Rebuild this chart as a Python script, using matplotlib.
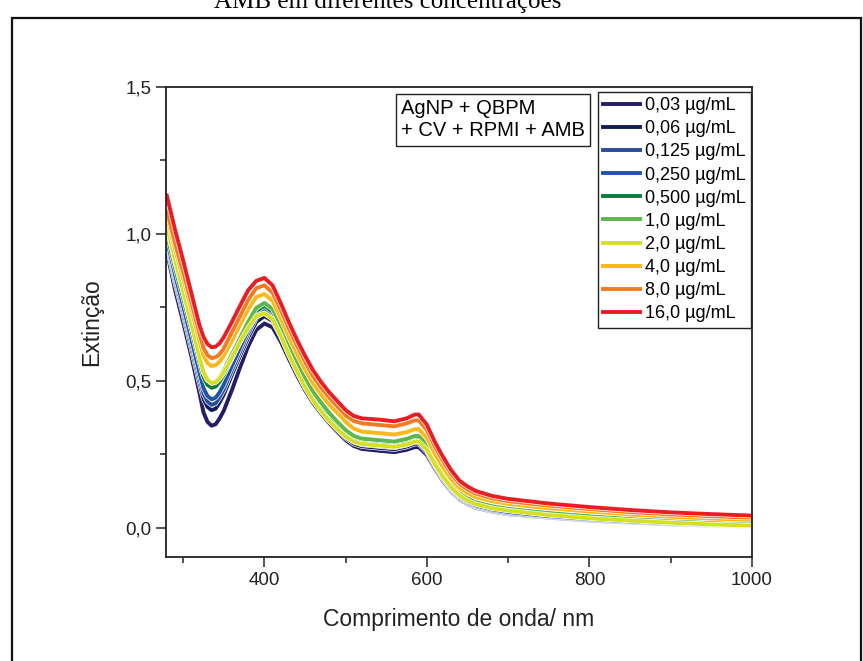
import matplotlib
matplotlib.use("Agg")
import matplotlib.pyplot as plt
import matplotlib.patheffects as pe
from matplotlib.patches import Rectangle
from matplotlib.ticker import MultipleLocator

plt.rcParams["font.family"] = ["Liberation Sans", "DejaVu Sans"]

wavelength = [280, 290, 300, 310, 320, 325, 330, 335, 340, 345, 350, 360, 370, 380, 390, 400,
              410, 420, 430, 440, 450, 460, 470, 480, 490, 500, 510, 520, 540, 560,
              575, 585, 590, 600, 610, 620, 630, 640, 650, 660, 680, 700, 750, 800,
              850, 900, 950, 1000]

conc_003 = [0.94, 0.81, 0.70, 0.585, 0.46, 0.393, 0.36, 0.347, 0.352, 0.372, 0.398, 0.468,
            0.545, 0.617, 0.673, 0.695, 0.682, 0.634, 0.575, 0.519, 0.468, 0.424, 0.388,
            0.355, 0.326, 0.298, 0.278, 0.268, 0.262, 0.257, 0.265, 0.274, 0.274, 0.247,
            0.2, 0.158, 0.123, 0.097, 0.08, 0.068, 0.055, 0.046, 0.034, 0.024, 0.017,
            0.011, 0.007, 0.004]
conc_006 = [0.96, 0.837, 0.728, 0.613, 0.495, 0.439, 0.411, 0.40, 0.405, 0.427, 0.453, 0.52,
            0.585, 0.647, 0.70, 0.72, 0.704, 0.652, 0.59, 0.532, 0.479, 0.434, 0.397, 0.363,
            0.334, 0.306, 0.286, 0.277, 0.272, 0.267, 0.276, 0.286, 0.286, 0.257, 0.207,
            0.164, 0.128, 0.101, 0.083, 0.071, 0.057, 0.048, 0.035, 0.025, 0.018, 0.012,
            0.008, 0.005]
conc_0125 = [0.97, 0.849, 0.741, 0.628, 0.512, 0.457, 0.429, 0.418, 0.423, 0.444, 0.47, 0.535,
             0.598, 0.66, 0.715, 0.735, 0.718, 0.664, 0.6, 0.54, 0.486, 0.44, 0.403, 0.369,
             0.34, 0.312, 0.292, 0.283, 0.278, 0.273, 0.282, 0.292, 0.292, 0.263, 0.212,
             0.168, 0.131, 0.104, 0.086, 0.073, 0.059, 0.05, 0.037, 0.027, 0.019, 0.013,
             0.009, 0.005]
conc_025 = [0.98, 0.861, 0.755, 0.643, 0.529, 0.475, 0.448, 0.437, 0.442, 0.461, 0.487, 0.55,
            0.612, 0.672, 0.725, 0.745, 0.727, 0.672, 0.607, 0.547, 0.492, 0.445, 0.408,
            0.374, 0.345, 0.317, 0.297, 0.288, 0.283, 0.278, 0.287, 0.297, 0.297, 0.268,
            0.216, 0.172, 0.135, 0.107, 0.089, 0.076, 0.062, 0.053, 0.039, 0.029, 0.021,
            0.015, 0.01, 0.006]
conc_05 = [1.00, 0.885, 0.783, 0.675, 0.565, 0.513, 0.486, 0.476, 0.48, 0.497, 0.52, 0.577,
           0.633, 0.69, 0.738, 0.755, 0.735, 0.68, 0.615, 0.555, 0.5, 0.453, 0.416, 0.382,
           0.353, 0.325, 0.306, 0.297, 0.292, 0.287, 0.296, 0.306, 0.306, 0.277, 0.225,
           0.18, 0.143, 0.114, 0.096, 0.083, 0.069, 0.06, 0.046, 0.035, 0.026, 0.019,
           0.014, 0.01]
conc_1 = [1.02, 0.904, 0.801, 0.693, 0.583, 0.53, 0.504, 0.493, 0.497, 0.512, 0.535, 0.59,
          0.645, 0.70, 0.748, 0.765, 0.745, 0.69, 0.625, 0.565, 0.51, 0.462, 0.425, 0.39,
          0.36, 0.332, 0.312, 0.303, 0.298, 0.293, 0.302, 0.312, 0.312, 0.283, 0.23,
          0.185, 0.147, 0.118, 0.1, 0.087, 0.073, 0.064, 0.05, 0.039, 0.03, 0.023,
          0.017, 0.013]
conc_2 = [1.03, 0.912, 0.807, 0.696, 0.583, 0.53, 0.503, 0.492, 0.495, 0.508, 0.528, 0.578,
          0.632, 0.68, 0.72, 0.73, 0.71, 0.655, 0.59, 0.532, 0.478, 0.432, 0.395, 0.362,
          0.335, 0.31, 0.293, 0.285, 0.28, 0.275, 0.283, 0.293, 0.293, 0.265, 0.215,
          0.172, 0.137, 0.11, 0.092, 0.08, 0.066, 0.058, 0.043, 0.032, 0.024, 0.017,
          0.011, 0.007]
conc_4 = [1.06, 0.948, 0.848, 0.744, 0.637, 0.586, 0.56, 0.55, 0.553, 0.565, 0.585, 0.636,
          0.69, 0.743, 0.785, 0.795, 0.772, 0.713, 0.65, 0.592, 0.538, 0.49, 0.452, 0.418,
          0.39, 0.36, 0.337, 0.327, 0.322, 0.317, 0.325, 0.335, 0.335, 0.305, 0.25,
          0.205, 0.165, 0.135, 0.117, 0.104, 0.09, 0.081, 0.066, 0.055, 0.045, 0.037,
          0.031, 0.026]
conc_8 = [1.08, 0.969, 0.871, 0.768, 0.663, 0.612, 0.587, 0.577, 0.58, 0.59, 0.61, 0.665,
          0.72, 0.775, 0.815, 0.825, 0.80, 0.742, 0.678, 0.62, 0.565, 0.515, 0.476, 0.442,
          0.412, 0.382, 0.363, 0.355, 0.35, 0.345, 0.355, 0.365, 0.365, 0.332, 0.274,
          0.226, 0.183, 0.15, 0.13, 0.116, 0.1, 0.09, 0.075, 0.063, 0.053, 0.045,
          0.039, 0.034]
conc_16 = [1.13, 1.015, 0.91, 0.80, 0.69, 0.65, 0.625, 0.614, 0.616, 0.628, 0.648, 0.70,
           0.755, 0.808, 0.84, 0.85, 0.825, 0.765, 0.70, 0.64, 0.585, 0.535, 0.495, 0.46,
           0.43, 0.40, 0.38, 0.372, 0.368, 0.362, 0.372, 0.385, 0.385, 0.35, 0.29,
           0.24, 0.195, 0.16, 0.14, 0.125, 0.108, 0.098, 0.082, 0.07, 0.06, 0.052,
           0.046, 0.041]

series = [conc_003, conc_006, conc_0125, conc_025, conc_05,
          conc_1, conc_2, conc_4, conc_8, conc_16]
labels = ["0,03 µg/mL", "0,06 µg/mL", "0,125 µg/mL", "0,250 µg/mL", "0,500 µg/mL",
          "1,0 µg/mL", "2,0 µg/mL", "4,0 µg/mL", "8,0 µg/mL", "16,0 µg/mL"]
colors = ["#221d66", "#0f1c55", "#2b4b9b", "#1f55a8", "#0d7b3d",
          "#5cb84a", "#d6e022", "#fbb917", "#f47a20", "#ec1c24"]

yticks = [0.0, 0.5, 1.0, 1.5]
ytick_labels = ["0,0", "0,5", "1,0", "1,5"]
xticks = [400, 600, 800, 1000]

fig = plt.figure(figsize=(8.63, 6.61), dpi=100)
ax = fig.add_axes([0.1924, 0.1573, 0.679, 0.7111])

for y, lab, c in zip(series, labels, colors):
    ax.plot(wavelength, y, color=c, lw=2.8, label=lab, solid_joinstyle="round",
            path_effects=[pe.Stroke(linewidth=3.8, foreground="white"), pe.Normal()])

ax.set_xlim(279, 1000)
ax.set_ylim(-0.1, 1.5)
ax.set_xticks(xticks)
ax.xaxis.set_minor_locator(MultipleLocator(100))
ax.set_yticks(yticks, ytick_labels)
ax.yaxis.set_minor_locator(MultipleLocator(0.25))
ax.tick_params(which="major", direction="out", length=7, width=1.1,
               labelsize=13.5, colors="#222222")
ax.tick_params(which="minor", direction="out", length=4, width=1.1, colors="#222222")
for s in ax.spines.values():
    s.set_linewidth(1.3)
    s.set_color("#222222")

ax.set_xlabel("Comprimento de onda/ nm", fontsize=16.5, labelpad=14, color="#222222")
ax.set_ylabel("Extinção", fontsize=16.5, labelpad=16, color="#222222")

leg = ax.legend(loc="upper right", bbox_to_anchor=(0.9985, 0.990), fontsize=13,
                frameon=True, fancybox=False, edgecolor="#222222", framealpha=1,
                handlelength=2.0, handletextpad=0.3, labelspacing=0.34,
                borderpad=0.3, borderaxespad=0.0)
leg.get_frame().set_linewidth(1.0)
for h in leg.get_lines():
    h.set_path_effects([])

ax.text(0.401, 0.975, "AgNP + QBPM\n+ CV + RPMI + AMB", transform=ax.transAxes,
        fontsize=14.5, va="top", ha="left", linespacing=1.25,
        bbox=dict(boxstyle="square,pad=0.25", facecolor="white", edgecolor="#222222", lw=1.0))

fig.text(0.4496, 0.988, "AMB em diferentes concentrações", ha="center", va="baseline",
         fontsize=18, family=["Liberation Serif", "DejaVu Serif"])

fig.patches.append(Rectangle((12 / 863, -0.05), 849 / 863, 0.05 + 643 / 661,
                             transform=fig.transFigure, fill=False,
                             edgecolor="#111111", lw=1.6, clip_on=False))

fig.savefig("out.png", dpi=100)
